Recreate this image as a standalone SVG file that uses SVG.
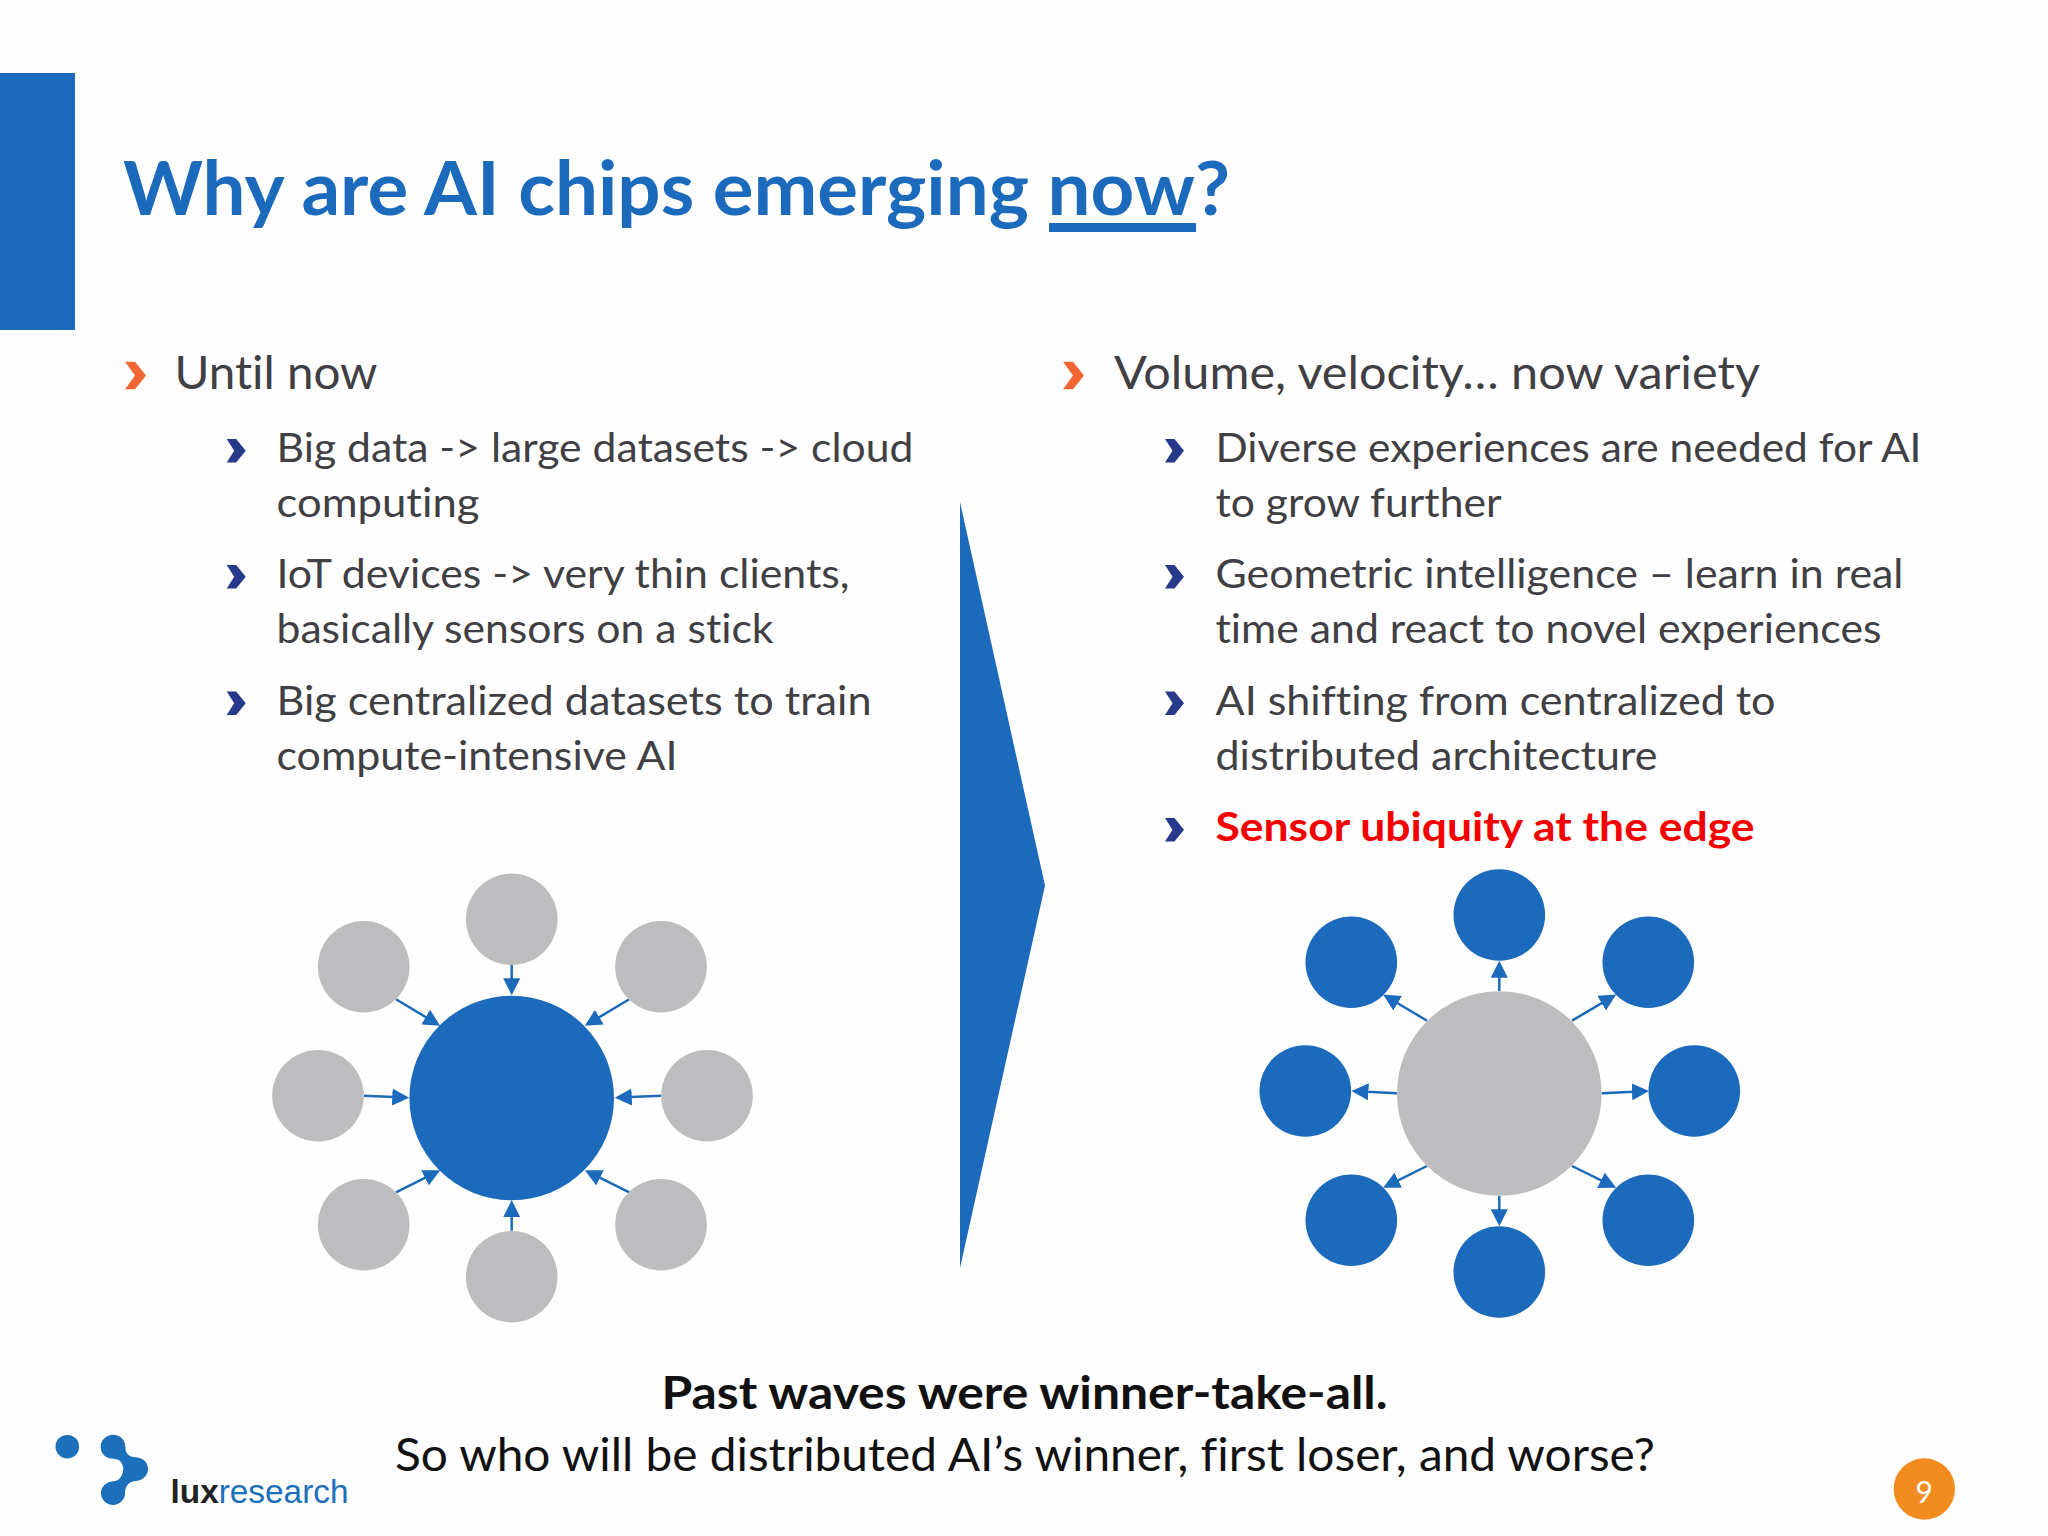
<svg xmlns="http://www.w3.org/2000/svg" width="2048" height="1536" viewBox="0 0 2048 1536">
<defs>
<marker id="ah" markerUnits="userSpaceOnUse" viewBox="0 0 16 16" markerWidth="17" markerHeight="17" refX="12" refY="8" orient="auto"><path d="M0 0L16 8L0 16Z" fill="#1c6abb"/></marker>
<polygon id="chevO" points="0,0 10,0 21,13.8 10,27.6 0,27.6 10,13.8" fill="#f26633"/>
<polygon id="chevN" points="0,0 9.5,0 19,11.8 9.5,23.6 0,23.6 7.5,11.8" fill="#27398a"/>
</defs>
<style>
text{font-family:"Lato","Liberation Sans",sans-serif;font-variant-ligatures:none}
.t{font-size:74px;font-weight:700;fill:#1c6abb}
.h{font-size:47px;fill:#3f3f44}
.s{font-size:40px;fill:#3f3f44}
.r{font-size:40px;font-weight:700;fill:#f50000}
.b{font-size:46px;fill:#111}
.bb{font-weight:700}
.g{fill:#bdbcbe}
.u{fill:#1c6abb}
.c line{stroke:#1c6abb;stroke-width:2.5;marker-end:url(#ah)}
</style>
<rect width="2048" height="1536" fill="#fefefe"/>
<rect id="sidebar" x="0" y="73" width="75" height="257" fill="#1c6abb"/>
<g id="title">
<text class="t" x="123" y="215" textLength="1107" lengthAdjust="spacingAndGlyphs">Why are AI chips emerging now?</text>
<rect x="1049" y="223" width="147" height="9" fill="#1c6abb"/>
</g>
<g id="left-bullets">
<use href="#chevO" x="125" y="361.7"/>
<text class="h" x="174.5" y="389" textLength="203" lengthAdjust="spacingAndGlyphs">Until now</text>
<use href="#chevN" x="226.7" y="439"/>
<text class="s" x="276.5" y="461.7" textLength="637" lengthAdjust="spacingAndGlyphs">Big data -&gt; large datasets -&gt; cloud</text>
<text class="s" x="276.5" y="516.5" textLength="203" lengthAdjust="spacingAndGlyphs">computing</text>
<use href="#chevN" x="226.7" y="565"/>
<text class="s" x="276.5" y="588" textLength="573" lengthAdjust="spacingAndGlyphs">IoT devices -&gt; very thin clients,</text>
<text class="s" x="276.5" y="643" textLength="497" lengthAdjust="spacingAndGlyphs">basically sensors on a stick</text>
<use href="#chevN" x="226.7" y="691.5"/>
<text class="s" x="276.5" y="714.5" textLength="595" lengthAdjust="spacingAndGlyphs">Big centralized datasets to train</text>
<text class="s" x="276.5" y="769.5" textLength="401" lengthAdjust="spacingAndGlyphs">compute-intensive AI</text>
</g>
<g id="right-bullets">
<use href="#chevO" x="1063" y="361.7"/>
<text class="h" x="1114" y="389" textLength="646" lengthAdjust="spacingAndGlyphs">Volume, velocity… now variety</text>
<use href="#chevN" x="1165" y="439"/>
<text class="s" x="1215.5" y="461.7" textLength="706" lengthAdjust="spacingAndGlyphs">Diverse experiences are needed for AI</text>
<text class="s" x="1215.5" y="516.5" textLength="286" lengthAdjust="spacingAndGlyphs">to grow further</text>
<use href="#chevN" x="1165" y="565"/>
<text class="s" x="1215.5" y="588" textLength="688" lengthAdjust="spacingAndGlyphs">Geometric intelligence – learn in real</text>
<text class="s" x="1215.5" y="643" textLength="666" lengthAdjust="spacingAndGlyphs">time and react to novel experiences</text>
<use href="#chevN" x="1165" y="691.5"/>
<text class="s" x="1215.5" y="714.5" textLength="560" lengthAdjust="spacingAndGlyphs">AI shifting from centralized to</text>
<text class="s" x="1215.5" y="769.5" textLength="442" lengthAdjust="spacingAndGlyphs">distributed architecture</text>
<use href="#chevN" x="1165" y="818"/>
<text class="r" x="1215.5" y="841" textLength="539" lengthAdjust="spacingAndGlyphs">Sensor ubiquity at the edge</text>
</g>
<polygon id="big-arrow" points="960,502 1045,885.5 960,1268" fill="#1c6abb"/>
<g id="connectors-left" class="c">
<line x1="511.7" y1="965" x2="511.7" y2="991"/>
<line x1="396" y1="999.3" x2="436.6" y2="1023.6"/>
<line x1="629.3" y1="999.3" x2="588.4" y2="1023.6"/>
<line x1="364" y1="1095.7" x2="405" y2="1097.5"/>
<line x1="661.3" y1="1095.7" x2="619" y2="1097.5"/>
<line x1="396" y1="1192.3" x2="436.4" y2="1172.1"/>
<line x1="629.3" y1="1192.3" x2="588.6" y2="1172.1"/>
<line x1="511.7" y1="1230.7" x2="511.7" y2="1204.3"/>
</g>
<g id="connectors-right" class="c">
<line x1="1499.3" y1="991" x2="1499.3" y2="965"/>
<line x1="1427" y1="1020.7" x2="1386.7" y2="996.7"/>
<line x1="1572" y1="1020.7" x2="1612.6" y2="996.7"/>
<line x1="1397" y1="1093.3" x2="1355.7" y2="1091.2"/>
<line x1="1601.7" y1="1093.3" x2="1644.7" y2="1091.2"/>
<line x1="1427" y1="1166" x2="1386.9" y2="1185.9"/>
<line x1="1572" y1="1166" x2="1612.4" y2="1185.9"/>
<line x1="1499.3" y1="1196" x2="1499.3" y2="1222"/>
</g>
<g id="hub-left"><circle class="u" cx="511.7" cy="1098" r="102.3"/></g>
<g id="left-n"><circle class="g" cx="511.7" cy="919.3" r="45.8"/></g>
<g id="left-ne"><circle class="g" cx="661" cy="966.7" r="45.8"/></g>
<g id="left-e"><circle class="g" cx="707" cy="1095.7" r="45.8"/></g>
<g id="left-se"><circle class="g" cx="661" cy="1224.7" r="45.8"/></g>
<g id="left-s"><circle class="g" cx="511.7" cy="1276.7" r="45.8"/></g>
<g id="left-sw"><circle class="g" cx="363.7" cy="1224.7" r="45.8"/></g>
<g id="left-w"><circle class="g" cx="318" cy="1095.7" r="45.8"/></g>
<g id="left-nw"><circle class="g" cx="363.7" cy="966.7" r="45.8"/></g>
<g id="hub-right"><circle class="g" cx="1499.3" cy="1093.5" r="102.3"/></g>
<g id="right-n"><circle class="u" cx="1499.3" cy="915" r="45.8"/></g>
<g id="right-ne"><circle class="u" cx="1648.3" cy="962.3" r="45.8"/></g>
<g id="right-e"><circle class="u" cx="1694.3" cy="1091" r="45.8"/></g>
<g id="right-se"><circle class="u" cx="1648.3" cy="1220.3" r="45.8"/></g>
<g id="right-s"><circle class="u" cx="1499.3" cy="1272" r="45.8"/></g>
<g id="right-sw"><circle class="u" cx="1351.3" cy="1220.3" r="45.8"/></g>
<g id="right-w"><circle class="u" cx="1305.3" cy="1091" r="45.8"/></g>
<g id="right-nw"><circle class="u" cx="1351.3" cy="962.3" r="45.8"/></g>
<g id="conclusion">
<text class="b bb" x="661.5" y="1409" textLength="726" lengthAdjust="spacingAndGlyphs">Past waves were winner-take-all.</text>
<text class="b" x="395" y="1471" textLength="1260" lengthAdjust="spacingAndGlyphs">So who will be distributed AI’s winner, first loser, and worse?</text>
</g>
<g id="logo">
<circle cx="67.3" cy="1446.7" r="11.8" fill="#1c6fbb"/>
<path transform="translate(0 1360) scale(.33333)" fill="#1c6fbb" d="M340 224C320 224 302 240 302 260C302 285 320 295 340 296C358 297 368 305 370 327C368 350 358 362 340 364C320 366 303 378 303 400C303 420 320 435 339 435C358 435 375 420 375 400C375 380 385 364 408 363C430 361 444 345 444 327C444 308 430 294 408 292C385 290 376 280 376 260C376 240 360 224 340 224Z"/>
<text x="170.5" y="1502.5" font-size="34" textLength="178" lengthAdjust="spacingAndGlyphs" style="font-family:'Liberation Sans',sans-serif"><tspan font-weight="700" fill="#222">lux</tspan><tspan fill="#1c6fbb">research</tspan></text>
</g>
<g id="page-number">
<circle cx="1924.3" cy="1489" r="30.7" fill="#f28c1e"/>
<text x="1924.3" y="1503" font-size="30" text-anchor="middle" fill="#fff">9</text>
</g>
</svg>
